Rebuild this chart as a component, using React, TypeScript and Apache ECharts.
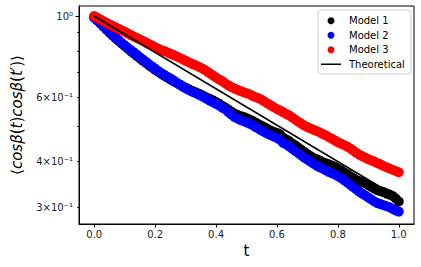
import React, { useEffect, useRef } from "react";
import * as echarts from "echarts";

const T = [
  0.0, 0.01, 0.02, 0.03, 0.04, 0.05, 0.06, 0.07, 0.08, 0.09, 0.1, 0.11, 0.12, 0.13, 0.14, 0.15,
  0.16, 0.17, 0.18, 0.19, 0.2, 0.21, 0.22, 0.23, 0.24, 0.25, 0.26, 0.27, 0.28, 0.29, 0.3, 0.31,
  0.32, 0.33, 0.34, 0.35, 0.36, 0.37, 0.38, 0.39, 0.4, 0.41, 0.42, 0.43, 0.44, 0.45, 0.46, 0.47,
  0.48, 0.49, 0.5, 0.51, 0.52, 0.53, 0.54, 0.55, 0.56, 0.57, 0.58, 0.59, 0.6, 0.61, 0.62, 0.63,
  0.64, 0.65, 0.66, 0.67, 0.68, 0.69, 0.7, 0.71, 0.72, 0.73, 0.74, 0.75, 0.76, 0.77, 0.78, 0.79,
  0.8, 0.81, 0.82, 0.83, 0.84, 0.85, 0.86, 0.87, 0.88, 0.89, 0.9, 0.91, 0.92, 0.93, 0.94, 0.95,
  0.96, 0.97, 0.98, 0.99, 1.0,
];

const MODEL1 = [
  0.991, 0.973, 0.955, 0.936, 0.918, 0.901, 0.885, 0.87, 0.855, 0.841, 0.828, 0.815, 0.802, 0.79,
  0.778, 0.766, 0.755, 0.744, 0.733, 0.723, 0.713, 0.704, 0.695, 0.687, 0.679, 0.671, 0.664, 0.657,
  0.65, 0.643, 0.637, 0.631, 0.625, 0.62, 0.615, 0.61, 0.604, 0.598, 0.593, 0.588, 0.582, 0.576,
  0.568, 0.562, 0.555, 0.548, 0.541, 0.537, 0.533, 0.53, 0.526, 0.521, 0.517, 0.511, 0.506, 0.501,
  0.496, 0.491, 0.486, 0.482, 0.479, 0.475, 0.465, 0.46, 0.455, 0.448, 0.443, 0.437, 0.431, 0.425,
  0.419, 0.414, 0.409, 0.406, 0.403, 0.399, 0.396, 0.393, 0.39, 0.387, 0.383, 0.379, 0.374, 0.37,
  0.365, 0.361, 0.356, 0.354, 0.351, 0.349, 0.345, 0.341, 0.337, 0.334, 0.332, 0.33, 0.327, 0.325,
  0.322, 0.317, 0.311,
];

const MODEL2 = [
  0.989, 0.972, 0.955, 0.937, 0.92, 0.904, 0.889, 0.874, 0.859, 0.845, 0.832, 0.819, 0.807, 0.795,
  0.783, 0.771, 0.76, 0.749, 0.738, 0.728, 0.718, 0.707, 0.698, 0.69, 0.682, 0.675, 0.667, 0.658,
  0.65, 0.642, 0.635, 0.628, 0.622, 0.617, 0.611, 0.606, 0.6, 0.593, 0.587, 0.581, 0.575, 0.57,
  0.562, 0.556, 0.547, 0.538, 0.53, 0.525, 0.52, 0.516, 0.512, 0.508, 0.503, 0.497, 0.492, 0.486,
  0.481, 0.476, 0.472, 0.468, 0.464, 0.459, 0.45, 0.446, 0.44, 0.434, 0.428, 0.422, 0.416, 0.41,
  0.405, 0.4, 0.395, 0.39, 0.386, 0.383, 0.379, 0.375, 0.372, 0.369, 0.365, 0.361, 0.356, 0.351,
  0.346, 0.341, 0.336, 0.331, 0.327, 0.323, 0.319, 0.315, 0.311, 0.308, 0.306, 0.304, 0.302, 0.3,
  0.297, 0.294, 0.292,
];

const MODEL3 = [
  1.0, 0.989, 0.979, 0.969, 0.959, 0.949, 0.94, 0.931, 0.923, 0.914, 0.906, 0.896, 0.887, 0.879,
  0.871, 0.863, 0.855, 0.846, 0.838, 0.83, 0.822, 0.814, 0.807, 0.802, 0.796, 0.789, 0.783, 0.776,
  0.769, 0.762, 0.755, 0.748, 0.741, 0.735, 0.729, 0.722, 0.715, 0.706, 0.697, 0.688, 0.679, 0.671,
  0.664, 0.655, 0.647, 0.64, 0.634, 0.629, 0.624, 0.619, 0.615, 0.611, 0.605, 0.6, 0.596, 0.59,
  0.583, 0.576, 0.57, 0.563, 0.557, 0.552, 0.546, 0.54, 0.535, 0.528, 0.521, 0.514, 0.508, 0.502,
  0.497, 0.493, 0.489, 0.485, 0.481, 0.476, 0.472, 0.467, 0.462, 0.457, 0.452, 0.448, 0.444, 0.44,
  0.435, 0.429, 0.423, 0.418, 0.414, 0.41, 0.406, 0.403, 0.4, 0.396, 0.393, 0.389, 0.386, 0.383,
  0.38, 0.377, 0.374,
];

const THEORY_T = [0, 1];
const THEORY = [1.0, 0.318];

const X_TICKS = [0, 0.2, 0.4, 0.6, 0.8, 1.0];
const Y_LABEL_VALUES = [0.3, 0.4, 0.6, 1.0];
const Y_LABELS = ["3×10⁻¹", "4×10⁻¹", "6×10⁻¹", "10⁰"];
const Y_MINOR_TICKS = [0.3, 0.4, 0.5, 0.6, 0.7, 0.8, 0.9];

const FONT = "DejaVu Sans";

function pairs(xs: number[], ys: number[]) {
  return xs.map((x, i) => [x, ys[i]]);
}

export default function App() {
  const ref = useRef<HTMLDivElement>(null);
  useEffect(() => {
    if (!ref.current) return;
    const chart = echarts.init(ref.current, null, { renderer: "svg" });
    const yCommon = {
      type: "log" as const,
      logBase: 10,
      min: 0.27,
      max: 1.065,
      position: "left" as const,
      splitLine: { show: false },
      axisLine: { show: true, onZero: false, lineStyle: { color: "#000", width: 1 } },
    };
    const scatter = (name: string, color: string, ys: number[], z: number) => ({
      name,
      type: "scatter",
      symbol: "circle",
      symbolSize: 10,
      itemStyle: { color, opacity: 1 },
      data: pairs(T, ys),
      z,
    });
    chart.setOption({
      animation: false,
      grid: {
        left: 79,
        top: 6,
        right: 7,
        bottom: 43,
        show: true,
        borderColor: "#000",
        borderWidth: 1,
        backgroundColor: "transparent",
      },
      legend: {
        orient: "vertical",
        left: 318,
        top: 10,
        itemWidth: 20,
        itemHeight: 7,
        itemGap: 3,
        padding: [5, 6, 4, 3],
        backgroundColor: "#fff",
        borderColor: "#d0d0d0",
        borderWidth: 1,
        borderRadius: 3,
        textStyle: { fontFamily: FONT, fontSize: 10, color: "#000", lineHeight: 11.5, padding: [0, 0, 0, 3] },
        data: [
          { name: "Model 1", icon: "circle" },
          { name: "Model 2", icon: "circle" },
          { name: "Model 3", icon: "circle" },
          { name: "Theoretical", icon: "path://M0,0L20,0L20,1.5L0,1.5Z" },
        ],
      },
      xAxis: {
        type: "value",
        min: -0.05,
        max: 1.05,
        name: "t",
        nameLocation: "middle",
        nameGap: 19,
        nameTextStyle: { fontFamily: FONT, fontSize: 15, color: "#000" },
        splitLine: { show: false },
        axisLine: { show: true, onZero: false, lineStyle: { color: "#000", width: 1 } },
        axisTick: { show: true, length: 3.5, customValues: X_TICKS, lineStyle: { color: "#000" } },
        axisLabel: {
          customValues: X_TICKS,
          margin: 5,
          fontFamily: FONT,
          fontSize: 10,
          color: "#222",
          formatter: (v: number) => v.toFixed(1),
        },
      },
      yAxis: [
        {
          ...yCommon,
          name: "{b|⟨}{i|cosβ}{b|(}{i|t}{b|)}{i|cosβ}{b|(}{i|t′}{b|)⟩}",
          nameLocation: "middle",
          nameGap: 55,
          nameRotate: 90,
          nameTextStyle: {
            fontFamily: FONT,
            fontSize: 15,
            color: "#000",
            rich: {
              b: { fontFamily: FONT, fontSize: 15, color: "#000" },
              i: { fontFamily: FONT, fontSize: 15, color: "#000", fontStyle: "italic" },
            },
          },
          axisTick: { show: true, length: 3.5, customValues: [1.0], lineStyle: { color: "#000" } },
          axisLabel: {
            customValues: Y_LABEL_VALUES,
            margin: 6,
            fontFamily: FONT,
            fontSize: 10,
            color: "#222",
            formatter: (v: number) => {
              const idx = Y_LABEL_VALUES.findIndex((u) => Math.abs(u - v) < 1e-6);
              return idx >= 0 ? Y_LABELS[idx] : "";
            },
          },
        },
        {
          ...yCommon,
          axisTick: { show: true, length: 2, customValues: Y_MINOR_TICKS, lineStyle: { color: "#000", width: 0.8 } },
          axisLabel: { show: false },
        },
      ],
      series: [
        scatter("Model 1", "#000000", MODEL1, 2),
        scatter("Model 2", "#0000ff", MODEL2, 3),
        scatter("Model 3", "#ff0000", MODEL3, 4),
        {
          name: "Theoretical",
          type: "line",
          symbol: "none",
          lineStyle: { color: "#000", width: 1.5 },
          itemStyle: { color: "#000" },
          data: pairs(THEORY_T, THEORY),
          z: 5,
        },
      ],
    });
    return () => chart.dispose();
  }, []);
  return (
    <div
      ref={ref}
      style={{ position: "fixed", left: 0, top: 0, width: 421, height: 267, background: "#fff" }}
    />
  );
}
